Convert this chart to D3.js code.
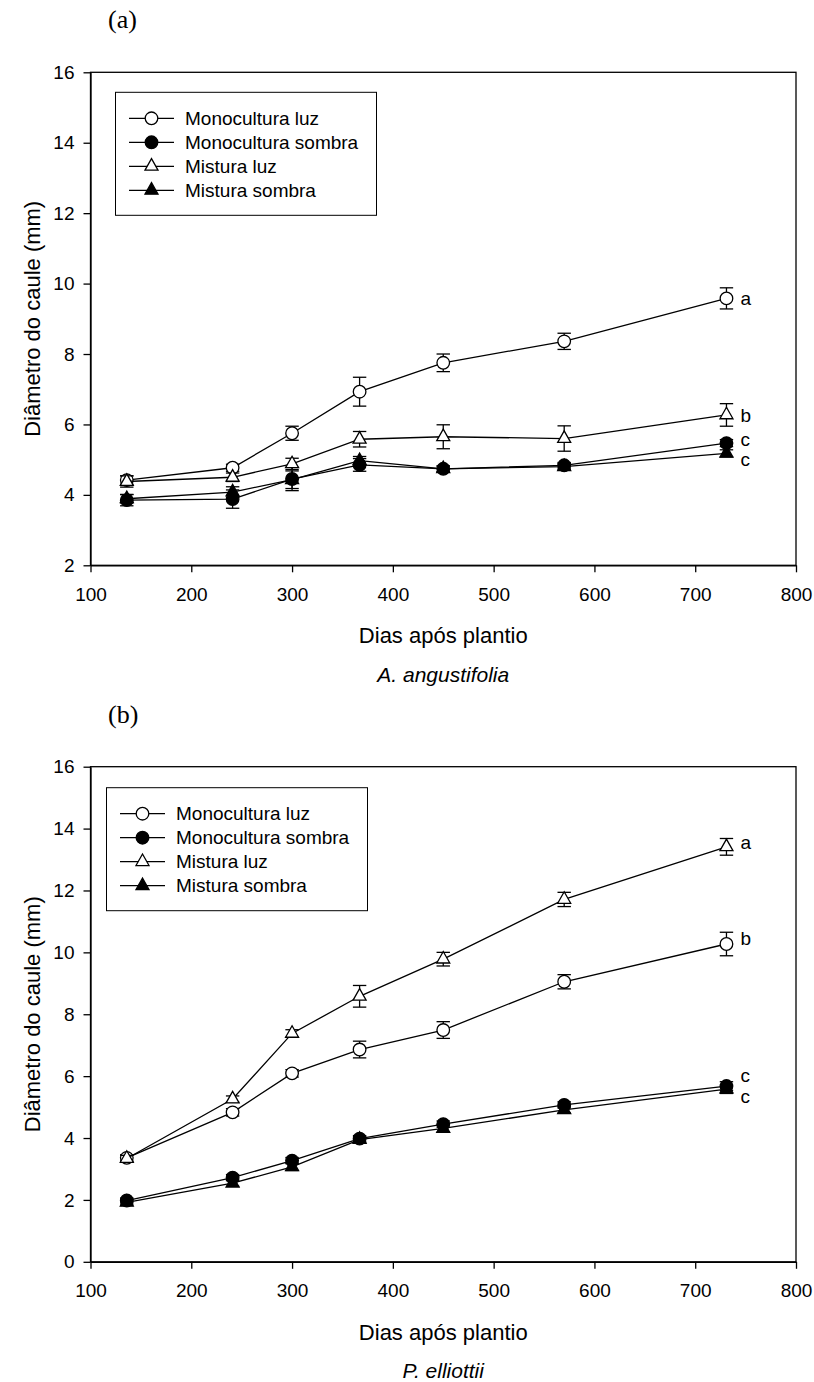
<!DOCTYPE html>
<html>
<head>
<meta charset="utf-8">
<script src="https://cdn.jsdelivr.net/npm/d3@7"></script>
<style>
  body { margin: 0; background: #fff; }
  text { font-family: "Liberation Sans", Arial, sans-serif; fill: #000; }
  .axis path, .axis line { stroke: #000; stroke-width: 1.3; }
  .axis text { font-size: 19px; font-family: "Liberation Sans", Arial, sans-serif; }
</style>
</head>
<body>
<div id="chart"></div>
<script>

// sampling days (shared by both panels)
var days = [136, 241, 300, 367, 450, 570, 731];

var seriesNames = ["Monocultura luz", "Monocultura sombra", "Mistura luz", "Mistura sombra"];

// panel (a) A. angustifolia
var monoLuzA = [4.42, 4.77, 5.75, 6.93, 7.75, 8.36, 9.58];
var monoLuzAErr = [0.12, 0.10, 0.20, 0.41, 0.25, 0.23, 0.30];
var monoSombraA = [3.85, 3.88, 4.45, 4.85, 4.74, 4.84, 5.47];
var monoSombraAErr = [0.16, 0.26, 0.33, 0.18, 0.08, 0.08, 0.10];
var mistLuzA = [4.38, 4.50, 4.88, 5.58, 5.65, 5.60, 6.27];
var mistLuzAErr = [0.16, 0.12, 0.16, 0.22, 0.34, 0.36, 0.32];
var mistSombraA = [3.89, 4.08, 4.43, 4.97, 4.74, 4.80, 5.18];
var mistSombraAErr = [0.12, 0.15, 0.25, 0.12, 0.08, 0.08, 0.10];
var lettersA = ["a", "c", "b", "c"];

// panel (b) P. elliottii
var monoLuzB = [3.36, 4.83, 6.09, 6.86, 7.49, 9.05, 10.27];
var monoLuzBErr = [0.10, 0.12, 0.12, 0.27, 0.27, 0.23, 0.38];
var monoSombraB = [1.98, 2.72, 3.27, 3.98, 4.45, 5.07, 5.68];
var monoSombraBErr = [0.08, 0.10, 0.10, 0.10, 0.10, 0.10, 0.14];
var mistLuzB = [3.34, 5.26, 7.38, 8.58, 9.78, 11.71, 13.41];
var mistLuzBErr = [0.10, 0.10, 0.12, 0.35, 0.22, 0.23, 0.27];
var mistSombraB = [1.92, 2.54, 3.07, 3.95, 4.31, 4.91, 5.58];
var mistSombraBErr = [0.08, 0.10, 0.12, 0.10, 0.12, 0.10, 0.14];
var lettersB = ["b", "c", "a", "c"];

var xTicks = [100, 200, 300, 400, 500, 600, 700, 800];

var width = 814, height = 1382;

var svg = d3.select("#chart")
    .append("svg")
    .attr("width", width)
    .attr("height", height);

var markerStyle = [
    { shape: "circle", fill: "#fff" },
    { shape: "circle", fill: "#000" },
    { shape: "triangle", fill: "#fff" },
    { shape: "triangle", fill: "#000" }
];

function triPath(w, h) {
    return "M0," + (-h * 2 / 3) + "L" + w + "," + (h / 3) + "L" + (-w) + "," + (h / 3) + "Z";
}

function drawMarker(g, style) {
    if (style.shape == "circle") {
        g.append("circle").attr("r", 6.3)
            .attr("fill", style.fill).attr("stroke", "#000").attr("stroke-width", 1.3);
    } else {
        g.append("path").attr("d", triPath(6.5, 11.5))
            .attr("fill", style.fill).attr("stroke", "#000").attr("stroke-width", 1.3)
            .attr("stroke-linejoin", "miter");
    }
}

function drawPanel(cfg) {
    var left = 90.5, right = 796;
    var g = svg.append("g");

    var x = d3.scaleLinear().domain([100, 800]).range([left, right]);
    var y = d3.scaleLinear().domain(cfg.yDomain).range([cfg.bottom, cfg.top]);

    // frame
    g.append("rect")
        .attr("x", left).attr("y", cfg.top)
        .attr("width", right - left).attr("height", cfg.bottom - cfg.top)
        .attr("fill", "none").attr("stroke", "#000").attr("stroke-width", 1.3);

    g.append("g")
        .attr("class", "axis")
        .attr("transform", "translate(0," + cfg.bottom + ")")
        .call(d3.axisBottom(x).tickValues(xTicks).tickSize(7).tickSizeOuter(0).tickPadding(15))
        .call(function(a) { a.selectAll("text").attr("fill", "#000"); });

    g.append("g")
        .attr("class", "axis")
        .attr("transform", "translate(" + left + ",0)")
        .call(d3.axisLeft(y).tickValues(cfg.yTicks).tickSize(7).tickSizeOuter(0).tickPadding(9))
        .call(function(a) { a.selectAll("text").attr("fill", "#000"); });

    var line = d3.line()
        .x(function(d) { return x(d.day); })
        .y(function(d) { return y(d.v); });

    cfg.series.forEach(function(s, i) {
        var pts = days.map(function(d, j) { return { day: d, v: s.values[j], e: s.errs[j] }; });

        g.append("path")
            .datum(pts)
            .attr("d", line)
            .attr("fill", "none")
            .attr("stroke", "#000")
            .attr("stroke-width", 1.3);

        var eb = g.selectAll(".eb" + i)
            .data(pts)
            .enter()
            .append("g");
        eb.append("line")
            .attr("x1", function(d) { return x(d.day); })
            .attr("x2", function(d) { return x(d.day); })
            .attr("y1", function(d) { return y(d.v - d.e); })
            .attr("y2", function(d) { return y(d.v + d.e); })
            .attr("stroke", "#000").attr("stroke-width", 1.3);
        [-1, 1].forEach(function(sign) {
            eb.append("line")
                .attr("x1", function(d) { return x(d.day) - 6.7; })
                .attr("x2", function(d) { return x(d.day) + 6.7; })
                .attr("y1", function(d) { return y(d.v + sign * d.e); })
                .attr("y2", function(d) { return y(d.v + sign * d.e); })
                .attr("stroke", "#000").attr("stroke-width", 1.3);
        });

        g.selectAll(".mk" + i)
            .data(pts)
            .enter()
            .append("g")
            .attr("transform", function(d) { return "translate(" + x(d.day) + "," + y(d.v) + ")"; })
            .each(function() { drawMarker(d3.select(this), markerStyle[i]); });

        // significance letter at the last point
        var last = pts[pts.length - 1];
        g.append("text")
            .attr("x", x(last.day) + 14)
            .attr("y", y(last.v) + cfg.letterShift[i])
            .attr("dy", "0.35em")
            .style("font-size", "19px")
            .text(cfg.letters[i]);
    });

    // legend
    var lx = left + cfg.legend[0], ly = cfg.top + cfg.legend[1];
    g.append("rect")
        .attr("x", lx).attr("y", ly)
        .attr("width", 261).attr("height", 123)
        .attr("fill", "#fff").attr("stroke", "#000").attr("stroke-width", 1);
    seriesNames.forEach(function(name, i) {
        var ry = ly + 26 + i * 24;
        g.append("line")
            .attr("x1", lx + 13.5).attr("x2", lx + 58.5)
            .attr("y1", ry).attr("y2", ry)
            .attr("stroke", "#000").attr("stroke-width", 1.3);
        var m = g.append("g").attr("transform", "translate(" + (lx + 36) + "," + ry + ")");
        drawMarker(m, markerStyle[i]);
        g.append("text")
            .attr("x", lx + 69.5).attr("y", ry)
            .attr("dy", "0.35em")
            .style("font-size", "19px")
            .text(name);
    });

    // titles
    g.append("text")
        .attr("x", 108).attr("y", cfg.top - 44)
        .style("font-family", "'Liberation Serif', 'Times New Roman', serif")
        .style("font-size", "26px")
        .text(cfg.tag);

    g.append("text")
        .attr("transform", "translate(32," + ((cfg.top + cfg.bottom) / 2) + ") rotate(-90)")
        .attr("text-anchor", "middle")
        .attr("dy", "0.35em")
        .style("font-size", "22px")
        .text("Diâmetro do caule (mm)");

    g.append("text")
        .attr("x", (left + right) / 2)
        .attr("y", cfg.bottom + 78)
        .attr("text-anchor", "middle")
        .style("font-size", "22px")
        .text("Dias após plantio");

    g.append("text")
        .attr("x", (left + right) / 2)
        .attr("y", cfg.bottom + 116.5)
        .attr("text-anchor", "middle")
        .style("font-size", "21px")
        .style("font-style", "italic")
        .text(cfg.species);
}

drawPanel({
    tag: "(a)",
    species: "A. angustifolia",
    top: 72.3, bottom: 565.3,
    yDomain: [2, 16], yTicks: [2, 4, 6, 8, 10, 12, 14, 16],
    legend: [25, 20],
    letters: lettersA,
    letterShift: [0, -4, 0, 6],
    series: [
        { values: monoLuzA, errs: monoLuzAErr },
        { values: monoSombraA, errs: monoSombraAErr },
        { values: mistLuzA, errs: mistLuzAErr },
        { values: mistSombraA, errs: mistSombraAErr }
    ]
});

drawPanel({
    tag: "(b)",
    species: "P. elliottii",
    top: 766.7, bottom: 1261.8,
    yDomain: [0, 16], yTicks: [0, 2, 4, 6, 8, 10, 12, 14, 16],
    legend: [16, 21],
    letters: lettersB,
    letterShift: [-6, -11, -4, 7],
    series: [
        { values: monoLuzB, errs: monoLuzBErr },
        { values: monoSombraB, errs: monoSombraBErr },
        { values: mistLuzB, errs: mistLuzBErr },
        { values: mistSombraB, errs: mistSombraBErr }
    ]
});

</script>
</body>
</html>
